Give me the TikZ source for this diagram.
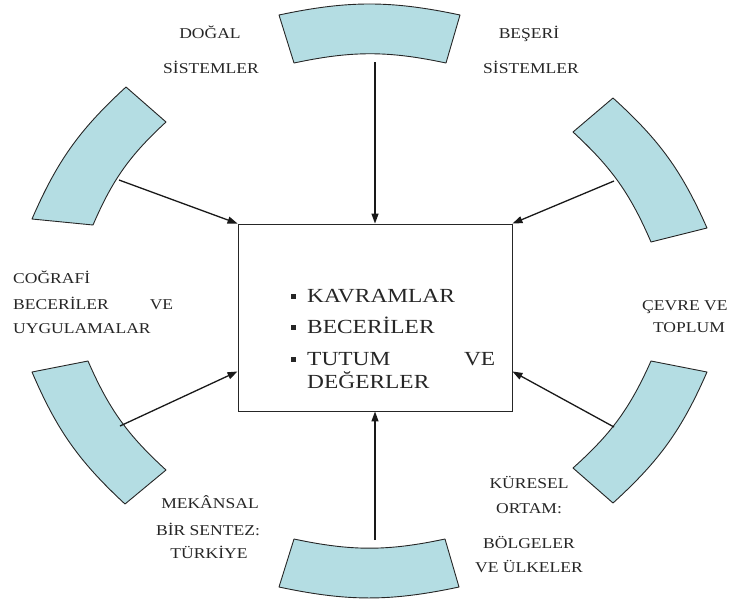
\documentclass[tikz,border=0pt]{standalone}
\usepackage{fontspec}
\setmainfont{Liberation Serif}
\newfontfamily\wideserif[FakeStretch=1.17]{Liberation Serif}
\usetikzlibrary{arrows.meta,calc}
\definecolor{arcfill}{HTML}{B4DDE3}
\definecolor{ink}{HTML}{262626}
\newcommand\mybul{\rule[3.5pt]{4.5pt}{4.5pt}\hspace{11.5pt}}
\begin{document}
\begin{tikzpicture}[x=1pt,y=-1pt,
  blockarc/.style={fill=arcfill, draw=ink, line width=0.9pt, line join=round},
  link/.style={draw=black!90, line width=1.3pt, -{Triangle[length=10pt,width=7pt]}},
  lbl/.style={anchor=base, text=ink, font=\wideserif\fontsize{15}{18}\selectfont, inner sep=0pt},
  lblw/.style={lbl, anchor=base west},
  item/.style={anchor=base west, text=ink, font=\wideserif\fontsize{20}{24}\selectfont, inner sep=0pt},
  mainbox/.style={draw=ink, line width=0.9pt, minimum width=274pt, minimum height=187pt, inner sep=0pt}]
\useasboundingbox (0,0) rectangle (730,598);
% block arcs
\draw[blockarc] (279,15) to[bend left=12] (460,15) -- (446,63) to[bend right=12] (294,63) -- cycle;
\draw[blockarc] (613,98) to[bend left=12] (707,228) -- (651,242) to[bend right=12] (573,132) -- cycle;
\draw[blockarc] (707,372) to[bend left=12] (613,503) -- (573,468) to[bend right=12] (651,361) -- cycle;
\draw[blockarc] (459,587) to[bend left=12] (279,587) -- (294,539) to[bend right=12] (445,539) -- cycle;
\draw[blockarc] (125,504) to[bend left=12] (32,372) -- (88,361) to[bend right=12] (166,470) -- cycle;
\draw[blockarc] (32,219) to[bend left=12] (126,87) -- (166,122) to[bend right=12] (93,225) -- cycle;
% arrow start points
\coordinate (ctop) at (375,62);
\coordinate (cur) at (614,181);
\coordinate (clr) at (614,427);
\coordinate (cbot) at (375,540);
\coordinate (cll) at (120,426);
\coordinate (cul) at (119,180);
% central box
\node[mainbox] (box) at (375,317.5) {};
\draw[link] (ctop) -- (box.north);
\draw[link] (cur) -- (box.north east);
\draw[link] (cul) -- (box.north west);
\draw[link] (cll) -- ([yshift=40pt]box.south west);
\draw[link] (clr) -- ([yshift=40pt]box.south east);
\draw[link] (cbot) -- (box.south);
% box text
\node[item] (k1) at (291,302) {\mybul KAVRAMLAR};
\node[item] (k2) at (291,333) {\mybul BECERİLER};
\node[item] (k3) at (291,365) {\mybul\makebox[188pt][s]{TUTUM\hfill VE}};
\node[item] (k4) at (307,388) {DEĞERLER};
% labels
\node[lbl] (l1a) at (210,38) {DOĞAL};
\node[lbl] (l1b) at (211,73) {SİSTEMLER};
\node[lbl] (l2a) at (529,38) {BEŞERİ};
\node[lbl] (l2b) at (531,73) {SİSTEMLER};
\node[lblw] (l3a) at (13,283) {COĞRAFİ};
\node[lblw] (l3b) at (13,309) {\makebox[160pt][s]{BECERİLER\hfill VE}};
\node[lblw] (l3c) at (13,333) {UYGULAMALAR};
\node[lbl] (l4a) at (210,508) {MEKÂNSAL};
\node[lbl] (l4b) at (208,535) {BİR SENTEZ:};
\node[lbl] (l4c) at (209,558) {TÜRKİYE};
\node[lblw] (l5a) at (642,310) {ÇEVRE VE};
\node[lbl] (l5b) at (689,332) {TOPLUM};
\node[lbl] (l6a) at (529,488) {KÜRESEL};
\node[lbl] (l6b) at (529,513) {ORTAM:};
\node[lbl] (l6c) at (529,548) {BÖLGELER};
\node[lbl] (l6d) at (529,572) {VE ÜLKELER};
\end{tikzpicture}
\end{document}
